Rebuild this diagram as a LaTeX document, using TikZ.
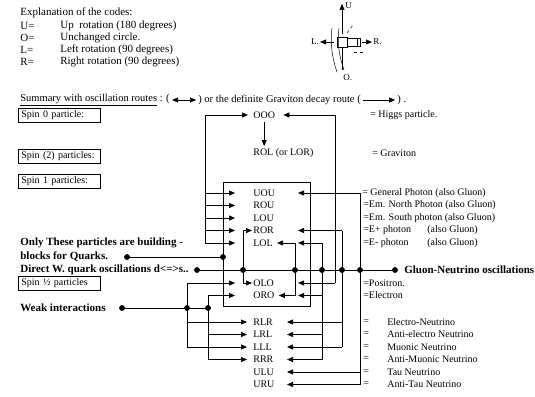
\documentclass[tikz,border=0pt]{standalone}
\usepackage{fontspec}
\setmainfont{Liberation Serif}
\usetikzlibrary{arrows.meta,positioning}

\tikzset{
  tip/.style={-{Triangle[length=6pt,width=5pt]}},
  both tips/.style={{Triangle[length=6pt,width=5pt]}-{Triangle[length=6pt,width=5pt]}},
  info/.style={anchor=west,inner sep=0pt},
  part/.style={anchor=west,inner sep=0pt},
  codetext/.style={anchor=west,inner sep=0pt,font=\fontsize{11}{13}\selectfont},
  bnote/.style={anchor=west,inner sep=0pt,font=\fontsize{11}{13}\selectfont\bfseries},
  spinbox/.style={draw,anchor=west,inner xsep=3pt,inner ysep=2.5pt,text width=76pt,align=left},
}

\begin{document}
\begin{tikzpicture}[x=1pt,y=-1pt,line width=0.7pt]
\useasboundingbox (0,0) rectangle (535,396);

% explanation of the codes
\node[codetext] (expl) at (20,13) {Explanation of the codes:};
\foreach \k/\codetxt/\desctxt/\y in {u/U=/{Up~ rotation (180 degrees)}/25.5, o/O=/{Unchanged circle.}/38, l/L=/{Left rotation (90 degrees)}/50, r/R=/{Right rotation (90 degrees)}/62}{
  \node[codetext] (code\k) at (20,\y) {\codetxt};
  \node[codetext] (desc\k) at (60,\y) {\desctxt};
}

% hand sketch of the rotations
\begin{scope}[shift={(342,42)},line width=0.5pt]
  \draw[tip] (0,-8) -- (0,-38);
  \node[info] (sketchU) at (3,-36) {\small U};
  \draw (0,6) -- (0,28);
  \node[info] (sketchO) at (1,36) {\small O.};
  \draw[tip] (-8,0) -- (-22,0);
  \node[anchor=east,inner sep=0pt] (sketchL) at (-23,0) {\small L.};
  \draw[tip] (20,0) -- (30,0);
  \node[info] (sketchR) at (31,0) {\small R.};
  \draw (-5,-5) rectangle (5,5);
  \draw (5,-4) -- (18,-4) -- (18,4) -- (5,4) (15,-4) -- (15,4);
  \draw (-10,-14) .. controls (-12,0) and (-10,16) .. (-5,30);
  \draw (-3,-14) .. controls (-5,0) and (-3,14) .. (2,28);
  \draw[dashed] (5,-9) -- (11,-17);
  \draw[dashed] (12,10) -- (22,10);
\end{scope}

% summary line
\begin{scope}[every node/.append style={font=\fontsize{10.5}{12.5}\selectfont}]
\node[info] (sumA) at (20,100) {\underline{Summary with oscillation routes} : (};
\coordinate[right=2pt of sumA.east] (swA);
\draw[both tips] (swA) -- ++(24,0) coordinate (swB);
\node[info,right=2pt of swB] (sumB) {) or the definite Graviton decay route (};
\coordinate[right=2pt of sumB.east] (sdA);
\draw[tip] (sdA) -- ++(32,0) coordinate (sdB);
\node[info,right=2pt of sdB] (sumC) {) .};
\end{scope}

% spin boxes
\node[spinbox] (spin0) at (18,115) {Spin 0 particle:};
\node[spinbox] (spin2) at (18,156) {Spin (2) particles:};
\node[spinbox] (spin1) at (18,181) {Spin 1 particles:};
\node[spinbox] (spinh) at (18,283) {Spin ½ particles};

% bold notes
\node[bnote] (only) at (20,243) {Only These particles are building -};
\node[bnote] (blocks) at (20,257) {blocks for Quarks.};
\node[bnote] (direct) at (20,270) {Direct W. quark oscillations d<=>s..};
\node[bnote] (weak) at (20,308) {Weak interactions};

% particles
\node[part] (ooo) at (253,115) {OOO};
\node[part] (rol) at (253,153) {ROL (or LOR)};
\node[draw,anchor=north west,minimum width=87pt,minimum height=124pt,inner sep=0pt] (qbox) at (223,182) {};
\foreach \n/\t/\y in {uou/UOU/193,rou/ROU/205.5,lou/LOU/218,ror/ROR/230.5,lol/LOL/243,olo/OLO/283,oro/ORO/295.5,
                      rlr/RLR/322,lrl/LRL/334.5,lll/LLL/347,rrr/RRR/359.5,ulu/ULU/372,uru/URU/384.5}
  \node[part] (\n) at (253,\y) {\t};

% meanings
\node[info] (higgs) at (370,115) {= Higgs particle.};
\node[info] (grav) at (372,153) {= Graviton};
\node[info] (gph) at (362,193) {= General Photon (also Gluon)};
\node[info] (nph) at (363,205.5) {=Em. North Photon (also Gluon)};
\node[info] (sph) at (363,218) {=Em. South photon (also Gluon)};
\node[info] (epl) at (363,230.5) {=E+ photon};
\node[info] (eplg) at (427,230.5) {(also Gluon)};
\node[info] (emi) at (363,243) {=E- photon};
\node[info] (emig) at (427,243) {(also Gluon)};
\node[info] (posi) at (363,283) {=Positron.};
\node[info] (elec) at (363,295.5) {=Electron};
\foreach \n/\t/\y in {en/Electro-Neutrino/322,aen/Anti-electro Neutrino/334.5,mn/Muonic Neutrino/347,amn/Anti-Muonic Neutrino/359.5,tn/Tau Neutrino/372,atn/Anti-Tau Neutrino/384.5}{
  \node[info] (eq\n) at (363,\y) {=};
  \node[info] (\n) at (387,\y) {\t};
}

% columns of the routes
\coordinate (cL) at (205,0);   % outer left route from OOO
\coordinate (cW) at (187,0);   % weak routes
\coordinate (cV) at (208,0);
\coordinate (cI) at (243,0);   % ROR <-> OLO
\coordinate (cA) at (295,0);   % LOL <-> ORO
\coordinate (cB) at (322,0);
\coordinate (cO) at (335,0);   % right route from OOO
\coordinate (cC) at (342,0);
\coordinate (cD) at (360,0);
\coordinate (tL) at (235,0);   % tips at the box
\coordinate (tN) at (247,0);
\coordinate (tR) at (298,0);
\coordinate (tS) at (287,0);

% graviton decay
\draw[tip] ([yshift=-3pt]ooo.south) -- ([yshift=2pt]ooo.south |- rol.north);

% left routes
\draw (cL |- ooo) -- (cL |- lol);
\draw[tip] (cL |- ooo) -- ([xshift=-5pt]ooo.west);
\foreach \n in {uou,rou,lou,ror,lol}
  \draw[tip] (cL |- \n) -- (tL |- \n);
\draw (cI |- ror) -- (cI |- olo);
\draw[tip] (cI |- ror) -- ([xshift=-1pt]ror.west);
\draw[tip] (cI |- olo) -- ([xshift=-1pt]olo.west);

% weak interactions
\coordinate (wk) at (122,308);
\draw (wk) -- (cV |- wk);
\draw (cW |- olo) -- (cW |- lll);
\draw[tip] (cW |- olo) -- (tL |- olo);
\draw[tip] (cW |- rlr) -- (tN |- rlr);
\draw[tip] (cW |- lll) -- (tN |- lll);
\draw (cV |- oro) -- (cV |- rrr);
\draw[tip] (cV |- oro) -- (tL |- oro);
\draw[tip] (cV |- lrl) -- (tN |- lrl);
\draw[tip] (cV |- rrr) -- (tN |- rrr);

% right routes
\draw (cA |- lol) -- (cA |- oro);
\draw[tip] (cA |- lol) -- ([xshift=4pt]lol.east);
\draw[tip] (cA |- oro) -- ([xshift=4pt]oro.east);
\draw (cB |- lol) -- (cB |- rrr);
\draw[tip] (cB |- lol) -- (tR |- lol);
\draw[tip] (cB |- oro) -- (tR |- oro);
\draw[tip] (cB |- lrl) -- (tS |- lrl);
\draw[tip] (cB |- rrr) -- (tS |- rrr);
\draw (cO |- ooo) -- (cO |- olo);
\draw[tip] (cO |- ooo) -- ([xshift=8pt]ooo.east);
\draw[tip] (cO |- olo) -- (tR |- olo);
\draw (cC |- ror) -- (cC |- lll);
\draw[tip] (cC |- ror) -- (tR |- ror);
\draw[tip] (cC |- rlr) -- (tS |- rlr);
\draw[tip] (cC |- lll) -- (tS |- lll);
\draw (cD |- uou) -- (cD |- uru);
\draw[tip] (cD |- uou) -- (tR |- uou);
\draw[tip] (cD |- ulu) -- (tS |- ulu);
\draw[tip] (cD |- uru) -- (tS |- uru);

% quark building blocks and gluon line
\coordinate (bq) at (127,257);
\draw (bq) -- (qbox.west |- bq);
\coordinate (dws) at (197,270);
\coordinate (gn) at (395,270);
\draw (dws) -- (gn);
\node[bnote,right=9pt of gn] (gluon) {Gluon-Neutrino oscillations};

% junction dots
\foreach \p in {bq,qbox.west |- bq,dws,gn,cI |- gn,cA |- gn,cB |- gn,cC |- gn,cD |- gn,wk,cW |- wk,cV |- wk}
  \filldraw (\p) circle (2.5pt);
\end{tikzpicture}
\end{document}
